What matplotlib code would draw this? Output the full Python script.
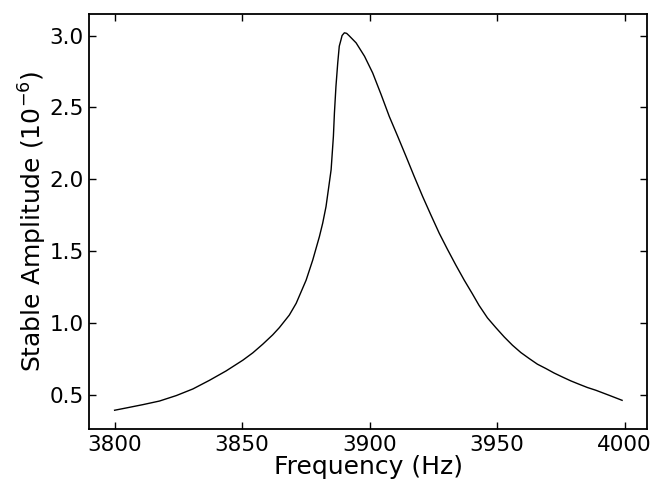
import matplotlib
matplotlib.use('Agg')
import matplotlib.pyplot as plt

# values
freq = [3800.0, 3804.6, 3811.1, 3817.6, 3824.2, 3830.7, 3837.2, 3843.7,
        3850.3, 3854.2, 3858.1, 3862.0, 3864.6, 3868.5, 3871.2, 3875.1,
        3877.7, 3880.3, 3881.6, 3882.9, 3884.0, 3884.9, 3885.8, 3886.2,
        3886.8, 3887.5, 3888.1, 3888.8, 3889.2, 3890.1, 3891.0, 3892.0,
        3894.7, 3898.0, 3901.2, 3904.5, 3907.7, 3911.0, 3914.3, 3917.5,
        3920.8, 3924.0, 3927.3, 3930.5, 3933.8, 3937.1, 3940.3, 3942.9,
        3946.2, 3949.5, 3952.8, 3956.0, 3959.3, 3962.6, 3965.8, 3969.1,
        3972.3, 3975.6, 3978.9, 3982.1, 3985.4, 3988.7, 3993.9, 3999.0]
amp = [0.396, 0.412, 0.435, 0.460, 0.498, 0.544, 0.604, 0.669,
       0.744, 0.795, 0.855, 0.920, 0.970, 1.057, 1.139, 1.300,
       1.440, 1.602, 1.696, 1.811, 1.951, 2.067, 2.300, 2.462,
       2.647, 2.810, 2.926, 2.972, 3.000, 3.019, 3.015, 2.998,
       2.949, 2.856, 2.740, 2.590, 2.438, 2.300, 2.159, 2.020,
       1.881, 1.754, 1.626, 1.515, 1.405, 1.300, 1.205, 1.125,
       1.038, 0.970, 0.905, 0.848, 0.797, 0.755, 0.716, 0.686,
       0.655, 0.627, 0.600, 0.577, 0.554, 0.535, 0.500, 0.465]

fig = plt.figure(figsize=(6.56, 4.8), dpi=100)
fig.subplots_adjust(left=0.136, right=0.987, top=0.971, bottom=0.106)
ax = fig.add_subplot(111)
ax.plot(freq, amp, color='black', linewidth=1.0)
ax.margins(0.05)
ax.set_xticks([3800, 3850, 3900, 3950, 4000])
ax.set_yticks([0.5, 1.0, 1.5, 2.0, 2.5, 3.0])
ax.tick_params(direction='in', top=True, right=True, length=5.3, width=1, labelsize=15.5, pad=4)
for s in ax.spines.values():
    s.set_linewidth(1.3)
ax.set_xlabel('Frequency (Hz)', fontsize=18, labelpad=0)
ax.set_ylabel('Stable Amplitude ($10^{-6}$)', fontsize=18, labelpad=0)
fig.savefig('out.png', dpi=100)
